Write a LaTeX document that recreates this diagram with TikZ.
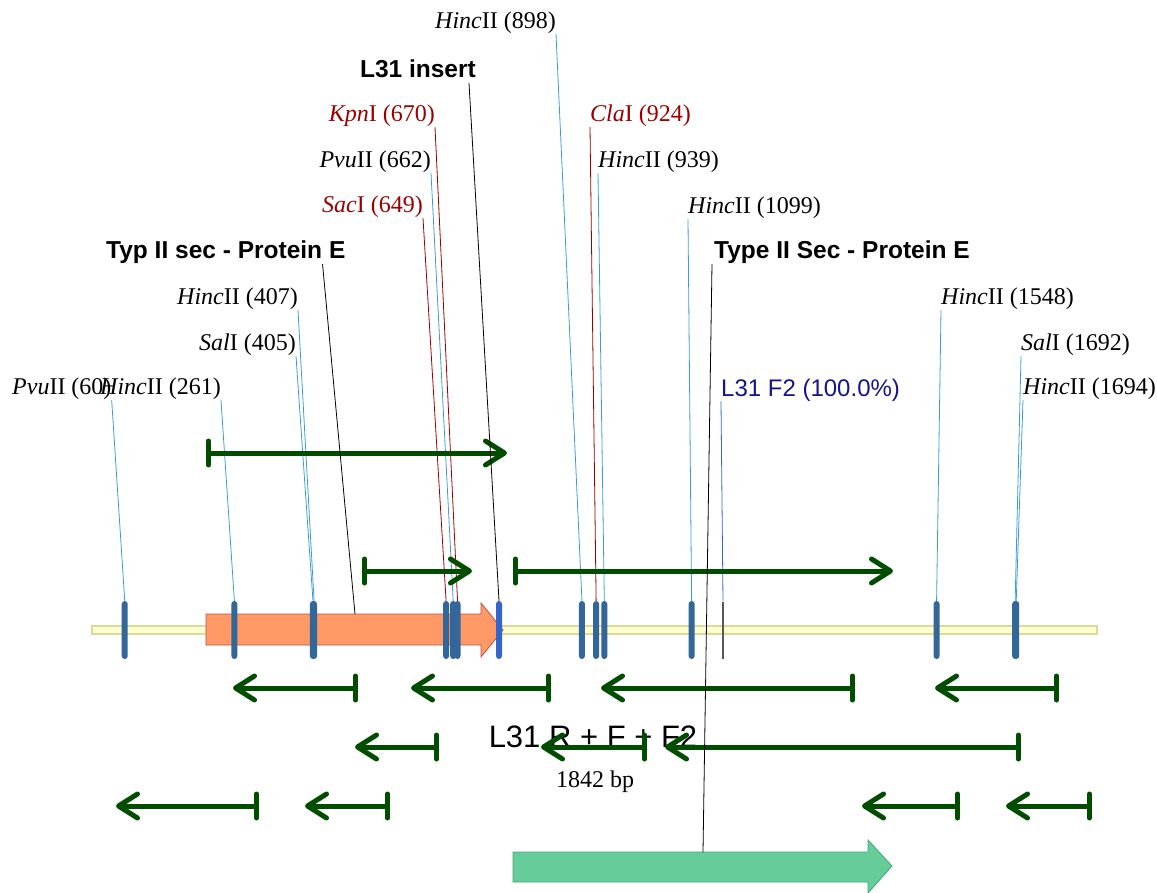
\documentclass[tikz,border=0pt]{standalone}
\usepackage{fontspec}
\setmainfont{Liberation Serif}
\setsansfont{Liberation Sans}
\usepackage{tikz}
\usetikzlibrary{positioning,arrows.meta}
\definecolor{siteblue}{RGB}{51,102,153}
\definecolor{insertblue}{RGB}{51,102,204}
\definecolor{lineblue}{RGB}{60,155,210}
\definecolor{enzred}{RGB}{153,0,0}
\definecolor{orfgreen}{RGB}{0,77,0}
\definecolor{featorange}{RGB}{255,153,102}
\definecolor{featedge}{RGB}{192,80,77}
\definecolor{featgreen}{RGB}{102,204,153}
\definecolor{featgreenedge}{RGB}{61,170,119}
\definecolor{bbfill}{RGB}{255,255,204}
\definecolor{bbedge}{RGB}{217,217,160}
\definecolor{f2blue}{RGB}{20,20,140}

\begin{document}
\begin{tikzpicture}[x=1pt,y=-1pt,
  lbl/.style={inner sep=0pt,text depth=5pt,font=\fontsize{24}{26}\selectfont},
  bold/.style={inner sep=0pt,text depth=5pt,font=\sffamily\bfseries\fontsize{24.5}{26}\selectfont},
  red/.style={text=enzred},
  site/.style={fill=siteblue,rounded corners=3pt,minimum width=6pt,minimum height=58pt,inner sep=0pt},
  tick/.style={draw=lineblue,line width=0.8pt},
  redtick/.style={draw=enzred,line width=0.8pt},
  blacktick/.style={draw=black,line width=0.8pt},
  orf/.style={draw=orfgreen,line width=5pt,{Bar[width=24pt,round]}-{Straight Barb[length=19pt,width=24pt,round]}}]
\useasboundingbox (0,0) rectangle (1157,893);

\draw[fill=bbfill,draw=bbedge,line width=1.2pt] (92,626) rectangle (1097,634);
\draw[fill=featorange,draw=featedge,line width=0.8pt] (206,614) -- (481,614) -- (481,603) -- (503,630) -- (481,657) -- (481,645) -- (206,645) -- cycle;
\draw[fill=featgreen,draw=featgreenedge,line width=0.8pt] (513,852) -- (868,852) -- (868,840) -- (892,866) -- (868,893) -- (868,882) -- (513,882) -- cycle;
\coordinate (typEtop) at (355,614);
\coordinate (typE2top) at (703,852);

\foreach \p in {60,261,405,407,649,662,670,898,924,939,1099,1548,1692,1694}
  \node[site] (s\p) at ({92+0.5456*\p},630) {};
\node[site,fill=insertblue] (s746) at (499,630) {};
\node[fill=gray!70!black,minimum width=1.2pt,minimum height=57pt,inner sep=0pt] (f2) at (723,630) {};

\node[lbl,anchor=base west] (l60) at (12,395) {\textit{Pvu}II (60)};
\node[lbl,anchor=base east] (l261) at (221,395) {\textit{Hinc}II (261)};
\node[lbl,anchor=base east] (l405) at (296,351) {\textit{Sal}I (405)};
\node[lbl,anchor=base east] (l407) at (298,305) {\textit{Hinc}II (407)};
\node[lbl,red,anchor=base east] (l649) at (423,213) {\textit{Sac}I (649)};
\node[lbl,anchor=base east] (l662) at (431,168) {\textit{Pvu}II (662)};
\node[lbl,red,anchor=base east] (l670) at (435,122) {\textit{Kpn}I (670)};
\node[lbl,anchor=base east] (l898) at (556,29) {\textit{Hinc}II (898)};
\node[lbl,red,anchor=base west] (l924) at (590,122) {\textit{Cla}I (924)};
\node[lbl,anchor=base west] (l939) at (598,168) {\textit{Hinc}II (939)};
\node[lbl,anchor=base west] (l1099) at (688,214) {\textit{Hinc}II (1099)};
\node[lbl,anchor=base west] (l1548) at (941,305) {\textit{Hinc}II (1548)};
\node[lbl,anchor=base west] (l1692) at (1021,351) {\textit{Sal}I (1692)};
\node[lbl,anchor=base west] (l1694) at (1023,395) {\textit{Hinc}II (1694)};
\node[bold,anchor=base east] (ins) at (476,78) {L31 insert};
\node[bold,anchor=base west] (typE) at (106,259) {Typ II sec - Protein E};
\node[bold,anchor=base west] (typE2) at (714,259) {Type II Sec - Protein E};
\node[lbl,font=\sffamily\fontsize{24}{26}\selectfont,text=f2blue,anchor=base west] (f2l) at (721,396) {L31 F2 (100.0\%)};
\node[inner sep=0pt,font=\sffamily\fontsize{31}{33}\selectfont,anchor=base] (title) at (593,747) {L31 R + F + F2};
\node[lbl,anchor=base] (len) at (595,787) {1842 bp};

\foreach \p in {60,261,405,407,662,898}
  \draw[tick] (l\p.south east) -- (s\p.north);
\foreach \p in {939,1099,1548,1692,1694}
  \draw[tick] (l\p.south west) -- (s\p.north);
\draw[redtick] (l649.south east) -- (s649.north);
\draw[redtick] (l670.south east) -- (s670.north);
\draw[redtick] (l924.south west) -- (s924.north);
\draw[tick,draw=insertblue] (f2l.south west) -- (f2.north);

\foreach \a/\b/\y in {206/507/453,362/472/571,513/893/571,358/233/688,551/411/688,855/601/688,1059/935/688,
  439/355/747,647/541/747,1021/665/747,259/116/806,390/305/806,960/862/806,1092/1006/806}
  \draw[orf] (\a,\y) -- (\b,\y);

\draw[blacktick] ([xshift=-7pt]ins.south east) -- (s746.north);
\draw[blacktick] ([xshift=-23pt]typE.south east) -- (typEtop);
\draw[blacktick] ([xshift=-2pt]typE2.south west) -- (typE2top);
\end{tikzpicture}
\end{document}
